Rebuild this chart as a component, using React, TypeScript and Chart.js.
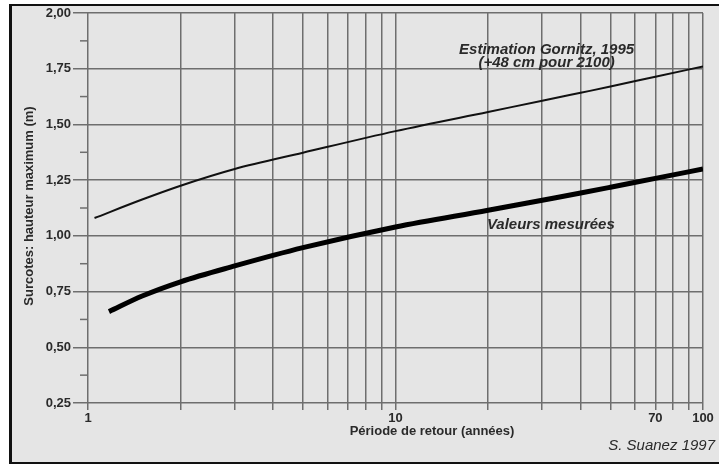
import React, { useEffect, useRef } from "react";
import { Chart, registerables } from "chart.js";

Chart.register(...registerables);

// Return period (years) and surge heights (m)
const GORNITZ_X = [1.05, 1.5, 2, 3, 5, 10, 20, 30, 40, 50, 70, 100];
const GORNITZ_Y = [1.08, 1.163, 1.225, 1.3, 1.373, 1.47, 1.556, 1.606, 1.642, 1.67, 1.714, 1.76];
const MESURE_X = [1.17, 1.5, 2, 3, 5, 10, 20, 30, 40, 50, 70, 100];
const MESURE_Y = [0.66, 0.73, 0.794, 0.865, 0.947, 1.04, 1.115, 1.16, 1.192, 1.218, 1.258, 1.3];

const X_GRID = [1, 2, 3, 4, 5, 6, 7, 8, 9, 10, 20, 30, 40, 50, 60, 70, 80, 90, 100];
const X_LABELS = [1, 10, 70, 100];
const Y_TICKS = [0.25, 0.5, 0.75, 1.0, 1.25, 1.5, 1.75, 2.0];
const Y_MINOR = [0.375, 0.625, 0.875, 1.125, 1.375, 1.625, 1.875];

const NOTES = [
  { text: "Estimation Gornitz, 1995", x: 31, y: 1.834 },
  { text: "(+48 cm pour 2100)", x: 31, y: 1.776 },
  { text: "Valeurs mesurées", x: 32, y: 1.05 },
];

const FONT = "'Liberation Sans', Arial, Helvetica, sans-serif";
const GRID = "#6e6e6e";
const TEXT = "#2a2a2a";

const decor = {
  id: "decor",
  afterDraw(chart: any) {
    const ctx = chart.ctx;
    const xs = chart.scales.x;
    const ys = chart.scales.y;
    const ca = chart.chartArea;
    ctx.save();
    // minor y ticks
    ctx.strokeStyle = GRID;
    ctx.lineWidth = 1.5;
    Y_MINOR.forEach((v) => {
      const py = ys.getPixelForValue(v);
      ctx.beginPath();
      ctx.moveTo(ca.left - 8, py);
      ctx.lineTo(ca.left, py);
      ctx.stroke();
    });
    // annotations
    ctx.fillStyle = TEXT;
    ctx.textAlign = "center";
    ctx.textBaseline = "middle";
    ctx.font = `italic bold 15px ${FONT}`;
    NOTES.forEach((n) => {
      ctx.fillText(n.text, xs.getPixelForValue(n.x), ys.getPixelForValue(n.y));
    });
    // x title
    ctx.font = `bold 13px ${FONT}`;
    ctx.fillText("Période de retour (années)", 432, 431);
    // credit
    ctx.font = `italic 15px ${FONT}`;
    ctx.textAlign = "right";
    ctx.fillText("S. Suanez 1997", 715, 446);
    // y title
    ctx.translate(29, 206);
    ctx.rotate(-Math.PI / 2);
    ctx.textAlign = "center";
    ctx.font = `bold 13px ${FONT}`;
    ctx.fillText("Surcotes: hauteur maximum (m)", 0, 0);
    ctx.restore();
  },
};

export default function App() {
  const ref = useRef<HTMLCanvasElement>(null);
  useEffect(() => {
    if (!ref.current) return;
    const chart = new Chart(ref.current, {
      type: "scatter",
      data: {
        datasets: [
          {
            label: "Estimation Gornitz, 1995",
            data: GORNITZ_X.map((x, i) => ({ x, y: GORNITZ_Y[i] })),
            showLine: true,
            borderColor: "#111",
            borderWidth: 2,
            pointRadius: 0,
            cubicInterpolationMode: "monotone",
          },
          {
            label: "Valeurs mesurées",
            data: MESURE_X.map((x, i) => ({ x, y: MESURE_Y[i] })),
            showLine: true,
            borderColor: "#000",
            borderWidth: 5,
            pointRadius: 0,
            cubicInterpolationMode: "monotone",
          },
        ],
      } as any,
      options: {
        animation: false,
        responsive: false,
        devicePixelRatio: 1,
        layout: { padding: { top: 13, right: 16, left: 0, bottom: 0 } },
        plugins: { legend: { display: false }, tooltip: { enabled: false } },
        scales: {
          x: {
            type: "logarithmic",
            min: 1,
            max: 100,
            afterBuildTicks: (s: any) => {
              s.ticks = X_GRID.map((v) => ({ value: v }));
            },
            afterFit: (s: any) => {
              s.height = 63;
            },
            border: { display: false },
            grid: { color: GRID, lineWidth: 1.5, tickLength: 7, drawTicks: true },
            ticks: {
              autoSkip: false,
              maxRotation: 0,
              padding: 1,
              color: TEXT,
              font: { family: FONT, size: 13, weight: "bold" },
              callback: (v: any) => (X_LABELS.includes(Number(v)) ? String(v) : ""),
            },
          },
          y: {
            type: "linear",
            min: 0.25,
            max: 2.0,
            afterBuildTicks: (s: any) => {
              s.ticks = Y_TICKS.map((v) => ({ value: v }));
            },
            afterFit: (s: any) => {
              s.width = 88;
            },
            border: { display: false },
            grid: { color: GRID, lineWidth: 1.5, tickLength: 15, drawTicks: true },
            ticks: {
              padding: 2,
              color: TEXT,
              font: { family: FONT, size: 13, weight: "bold" },
              callback: (v: any) => Number(v).toFixed(2).replace(".", ","),
            },
          },
        },
      } as any,
      plugins: [decor],
    });
    return () => chart.destroy();
  }, []);

  return (
    <div style={{ position: "absolute", left: 0, top: 0, width: 719, height: 466, background: "#fff" }}>
      <div
        style={{
          position: "absolute",
          left: 9,
          top: 4,
          width: 710,
          height: 460,
          boxSizing: "border-box",
          borderLeft: "3px solid #111",
          borderTop: "2px solid #111",
          borderBottom: "2px solid #111",
          background: "#e5e5e5",
        }}
      />
      <canvas ref={ref} width={719} height={466} style={{ position: "absolute", left: 0, top: 0 }} />
    </div>
  );
}
